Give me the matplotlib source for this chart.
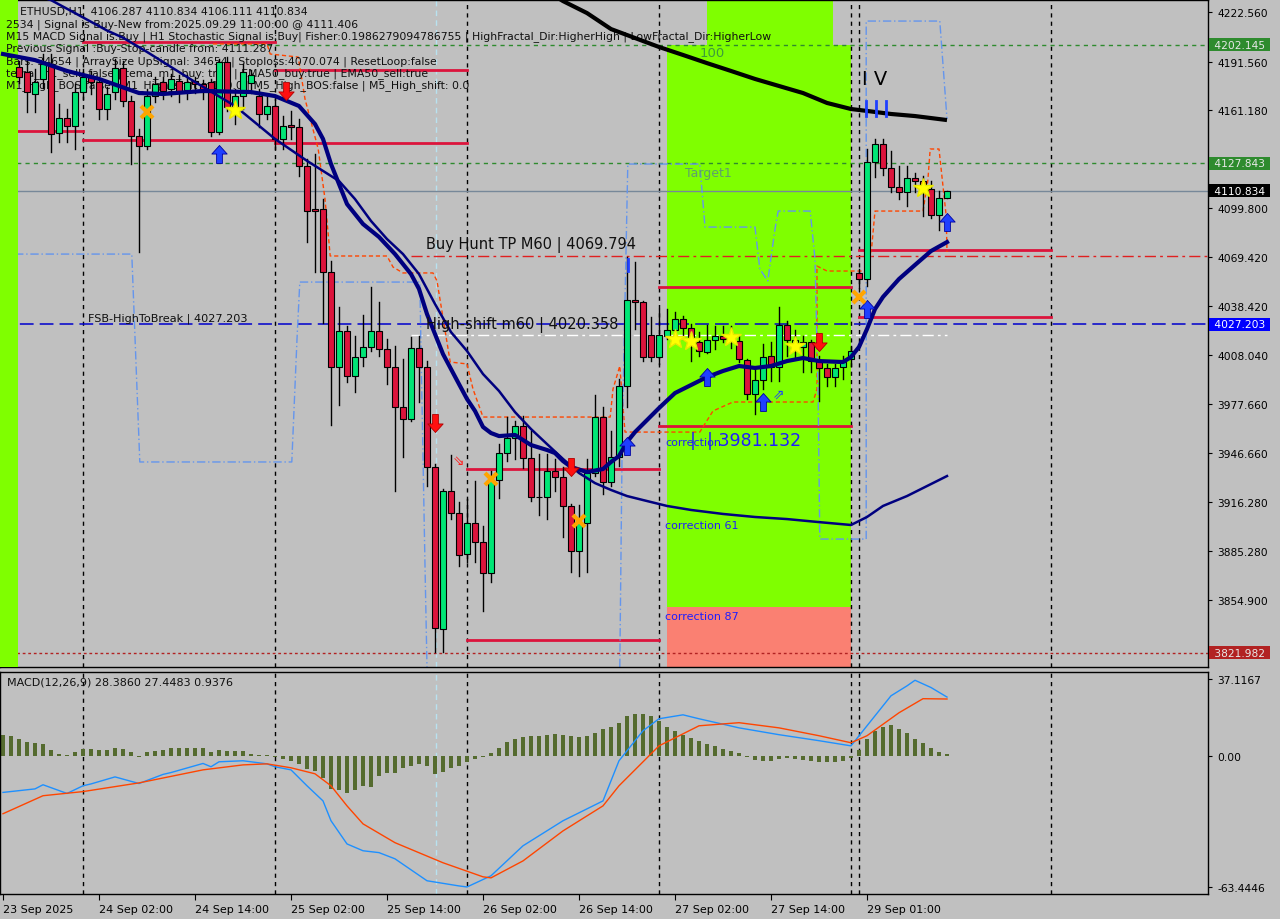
import matplotlib.pyplot as plt
from matplotlib.patches import Rectangle
from matplotlib.path import Path

plt.rcParams['font.family'] = ['DejaVu Sans']

BG = '#C0C0C0'
BULL = '#00E676'
BEAR = '#DC143C'

# hourly bars, index 0 = 23 Sep 14:00, last bar = 29 Sep 11:00
opens = [4193.0, 4195.0, 4188.0, 4185.0, 4171.3, 4180.7, 4190.1, 4146.9, 4156.3, 4151.3,
         4172.5, 4181.9, 4178.8, 4161.9, 4172.5, 4187.6, 4166.9, 4145.0, 4138.8, 4170.1,
         4178.8, 4174.4, 4179.4, 4174.0, 4179.4, 4177.5, 4178.8, 4147.5, 4191.3, 4163.2,
         4170.1, 4178.0, 4170.1, 4158.8, 4163.8, 4143.2, 4151.9, 4150.7, 4126.3, 4099.4,
         4099.4, 4060.0, 4000.6, 4023.1, 3995.0, 4006.8, 4013.1, 4023.1, 4011.8, 4000.6,
         3975.6, 3968.1, 4012.5, 4000.6, 3938.1, 3836.8, 3923.1, 3909.3, 3883.6, 3903.0,
         3891.2, 3871.8, 3929.9, 3946.8, 3956.2, 3963.7, 3943.7, 3919.3, 3919.3, 3935.5,
         3931.8, 3913.7, 3885.5, 3903.0, 3934.3, 3969.3, 3928.7, 3944.3, 3988.7, 4042.5,
         4041.2, 4020.6, 4006.8, 4019.9, 4023.7, 4030.6, 4024.9, 4016.2, 4010.0, 4017.4,
         4019.9, 4018.1, 4016.8, 4005.0, 3983.6, 3992.5, 4007.5, 4000.6, 4026.8, 4015.0,
         4013.1, 4016.2, 4004.3, 4000.0, 3994.3, 4000.6, 4005.6, 4059.4, 4055.6, 4128.8,
         4140.0, 4125.0, 4113.1, 4110.0, 4118.8, 4116.9, 4111.9, 4095.6, 4106.287]
highs = [4198.0, 4199.0, 4192.0, 4193.2, 4186.9, 4196.3, 4196.3, 4165.0, 4161.9, 4177.5,
         4186.9, 4185.6, 4181.9, 4175.7, 4193.2, 4192.0, 4170.1, 4149.4, 4174.4, 4182.0,
         4182.0, 4184.0, 4183.0, 4183.0, 4182.0, 4180.0, 4180.7, 4193.2, 4194.4, 4174.4,
         4190.1, 4186.0, 4174.4, 4171.3, 4168.2, 4157.5, 4160.6, 4155.7, 4130.6, 4133.8,
         4105.6, 4066.9, 4038.1, 4026.2, 4019.9, 4033.1, 4050.6, 4041.2, 4018.1, 4013.7,
         4005.6, 4019.3, 4019.9, 4004.3, 3939.9, 3924.3, 3945.6, 3916.0, 3918.1, 3929.3,
         3901.2, 3935.5, 3952.5, 3969.3, 3966.8, 3970.0, 3960.6, 3946.2, 3946.2, 3943.1,
         3938.1, 3914.9, 3914.3, 3943.1, 3983.1, 3975.6, 3960.6, 3993.1, 4069.4, 4066.2,
         4042.0, 4031.8, 4036.8, 4036.8, 4035.0, 4032.5, 4027.5, 4022.4, 4026.8, 4026.2,
         4026.2, 4026.2, 4019.9, 4005.6, 3999.3, 4014.9, 4016.2, 4038.1, 4029.3, 4023.7,
         4020.0, 4017.4, 4007.5, 4002.5, 4002.5, 4007.5, 4014.0, 4062.0, 4137.0, 4143.2,
         4143.2, 4135.6, 4126.3, 4126.3, 4122.0, 4120.0, 4116.9, 4110.6, 4110.834]
lows = [4188.0, 4185.0, 4178.0, 4160.0, 4160.0, 4175.0, 4135.0, 4141.0, 4141.0, 4136.9,
        4168.2, 4171.3, 4155.7, 4155.7, 4168.2, 4163.8, 4127.5, 4072.5, 4136.9, 4166.0,
        4168.0, 4170.0, 4166.0, 4168.0, 4172.0, 4168.0, 4145.0, 4146.3, 4160.6, 4152.5,
        4161.9, 4172.0, 4150.7, 4155.7, 4136.9, 4136.9, 4143.2, 4120.0, 4078.7, 4060.0,
        4028.0, 3964.3, 3976.8, 3991.0, 3985.0, 4001.2, 4010.6, 4007.5, 3990.0, 3923.1,
        3944.3, 3966.9, 3979.0, 3926.2, 3822.4, 3822.4, 3905.5, 3876.0, 3878.6, 3878.6,
        3848.0, 3866.1, 3918.7, 3942.0, 3943.1, 3937.4, 3916.8, 3908.1, 3905.5, 3923.1,
        3894.3, 3872.4, 3869.9, 3872.4, 3932.4, 3921.2, 3926.2, 3938.7, 3975.6, 4024.3,
        4004.3, 4004.3, 4002.5, 4018.1, 4018.1, 4018.1, 4004.3, 4007.5, 4009.4, 4011.8,
        4016.2, 4012.5, 4003.7, 3980.6, 3971.2, 3986.8, 3991.8, 3991.8, 4007.5, 4005.6,
        3997.5, 3997.5, 3979.4, 3988.7, 3988.7, 3993.1, 4001.0, 4050.0, 4051.2, 4119.4,
        4120.6, 4110.0, 4105.6, 4101.2, 4110.0, 4095.0, 4093.7, 4086.0, 4106.111]
closes = [4195.0, 4188.0, 4182.0, 4172.5, 4178.8, 4190.1, 4146.3, 4156.3, 4151.3, 4172.5,
          4181.9, 4178.8, 4161.9, 4171.3, 4187.6, 4166.9, 4145.0, 4138.8, 4170.1, 4177.5,
          4173.2, 4180.7, 4173.2, 4179.0, 4177.5, 4172.5, 4147.5, 4191.3, 4163.2, 4170.1,
          4185.0, 4183.0, 4158.8, 4163.8, 4143.2, 4151.3, 4150.7, 4126.3, 4098.1, 4098.1,
          4060.0, 4000.6, 4023.1, 3995.0, 4006.8, 4013.1, 4023.1, 4011.8, 4000.6, 3975.6,
          3968.1, 4012.5, 4000.6, 3938.1, 3837.4, 3923.1, 3909.3, 3883.0, 3903.0, 3891.2,
          3871.8, 3929.9, 3946.8, 3956.2, 3963.7, 3943.7, 3919.3, 3919.0, 3935.5, 3931.8,
          3913.7, 3885.5, 3903.0, 3934.3, 3969.3, 3928.7, 3944.3, 3988.7, 4042.5, 4041.2,
          4006.8, 4006.8, 4020.6, 4023.7, 4030.6, 4024.9, 4018.1, 4010.6, 4017.4, 4019.9,
          4018.1, 4019.3, 4005.6, 3983.6, 3992.5, 4006.8, 4000.6, 4026.8, 4017.4, 4017.4,
          4016.2, 4004.3, 4000.0, 3994.3, 4000.0, 4003.7, 4010.6, 4055.6, 4128.8, 4140.0,
          4125.0, 4113.1, 4110.0, 4118.8, 4116.9, 4112.0, 4095.6, 4106.3, 4110.834]

time_ticks = [0, 12, 24, 36, 48, 60, 72, 84, 96, 108]
time_labels = ['23 Sep 2025', '24 Sep 02:00', '24 Sep 14:00', '25 Sep 02:00', '25 Sep 14:00',
               '26 Sep 02:00', '26 Sep 14:00', '27 Sep 02:00', '27 Sep 14:00', '29 Sep 01:00']
day_breaks = [10, 34, 58, 82, 106, 107, 131]

price_ticks = [4222.560, 4191.560, 4161.180, 4130.180, 4099.800, 4069.420, 4038.420,
               4008.040, 3977.660, 3946.660, 3916.280, 3885.280, 3854.900, 3824.520]

# moving averages (bar index, price)
fast_k = [0, 4, 8, 12, 17, 20, 25, 31, 34, 37, 39, 40, 41, 42, 43, 45, 47, 49, 51, 52,
          53, 54, 55, 56, 57, 58, 59, 60, 61, 62, 64, 66, 68, 69, 70, 71, 73, 75, 76, 77,
          78, 79, 80, 82, 84, 86, 88, 90, 92, 94, 96, 98, 100, 102, 105, 106, 107, 108, 109, 110,
          112, 114, 116, 118]
fast_v = [4196.3, 4192.5, 4185.7, 4180.7, 4171.9, 4171.3, 4173.2, 4172.5, 4170.0, 4163.8,
          4152.5, 4143.2, 4127.5, 4115.0, 4102.5, 4090.0, 4081.9, 4071.2, 4058.7, 4049.4,
          4033.7, 4021.2, 4008.7, 3999.3, 3989.9, 3980.6, 3973.1, 3963.1, 3959.3, 3957.4,
          3958.1, 3951.8, 3948.7, 3946.8, 3941.8, 3938.1, 3934.9, 3936.8, 3941.2, 3944.9,
          3953.7, 3959.9, 3964.9, 3974.9, 3984.3, 3989.3, 3994.3, 3998.1, 4001.2, 4000.0,
          4001.2, 4004.3, 4006.2, 4004.3, 4003.7, 4006.8, 4013.1, 4024.3, 4036.8, 4044.4,
          4055.6, 4064.4, 4073.1, 4078.7]
slow_k = [4, 6, 9, 13, 15, 18, 21, 24, 29, 34, 38, 42, 44, 46, 48, 50, 52, 54, 56, 58,
          60, 62, 64, 66, 68, 70, 72, 74, 76, 78, 80, 83, 86, 90, 94, 98, 102, 106, 108, 110,
          113, 116, 118]
slow_v = [4233.2, 4230.0, 4221.9, 4211.0, 4206.5, 4197.6, 4188.2, 4178.8, 4163.8, 4143.2,
          4129.5, 4116.9, 4105.6, 4091.9, 4080.6, 4071.2, 4058.7, 4040.0, 4022.4, 4010.6,
          3996.2, 3985.6, 3972.4, 3961.8, 3952.4, 3943.1, 3934.3, 3928.0, 3923.7, 3919.9,
          3917.4, 3913.7, 3911.2, 3908.7, 3906.8, 3905.5, 3903.6, 3901.8, 3906.8, 3913.7,
          3919.9, 3927.4, 3932.4]
long_k = [66, 70, 73, 76, 79, 82, 85, 88, 91, 94, 97, 100, 103, 106, 108, 111, 114, 118]
long_v = [4242.0, 4229.4, 4221.9, 4211.9, 4206.3, 4200.7, 4195.7, 4190.6, 4185.7, 4180.7,
          4176.3, 4171.9, 4165.7, 4161.9, 4160.7, 4158.8, 4157.5, 4155.0]

# orange trailing step line
trail_k = [26.25, 33, 33.4, 36.9, 37.75, 39.4, 40.25, 40.9, 48, 48.75, 50, 53.75, 54.25, 55.9,
           58, 58.75, 60, 75.9, 76.25, 77.1, 77.75, 87.1, 88.75, 91.25, 101.25, 101.75, 101.75,
           103, 108, 108.6, 109, 115, 115.6, 115.9, 117, 117.9, 118]
trail_v = [4202.6, 4202.6, 4196.3, 4194.4, 4168.2, 4136.9, 4105.6, 4070.0, 4070.0, 4063.1,
           4059.4, 4059.4, 4054.4, 4003.7, 4002.5, 3986.8, 3969.3, 3969.3, 3986.8, 4001.2,
           3959.9, 3959.9, 3973.1, 3978.7, 3978.7, 3986.8, 4063.7, 4060.6, 4060.6, 4076.2,
           4098.1, 4098.1, 4116.9, 4136.9, 4136.9, 4095.0, 4072.5]

# light blue channel steps
band1_k = [-0.4, 16.1, 17.1, 36.1, 36.75, 37.1, 52.1, 52.75, 53.0]
band1_v = [4071.2, 4071.2, 3941.2, 3941.2, 4018.1, 4053.7, 4053.7, 3876.2, 3813.0]
band2_k = [77.1, 77.4, 78.1, 87.1, 87.75, 94.0, 94.6, 95.6, 96.5, 96.9, 100.9, 101.5, 101.9,
           102.1, 105.9, 107.9, 107.9, 117.1, 118.0]
band2_v = [3813.0, 3955.6, 4127.5, 4127.5, 4088.1, 4088.1, 4061.9, 4054.4, 4086.9, 4098.1,
           4098.1, 4068.1, 3980.6, 3893.0, 3893.0, 3893.0, 4216.9, 4216.9, 4155.7]

# red level segments: (start bar, end bar, price)
red_levels = [(10, 34, 4203.8), (34, 58, 4186.3), (-0.4, 10, 4148.2), (10, 34, 4142.5),
              (34, 58, 4140.7), (58, 82, 3936.8), (58, 82, 3829.9), (82, 106, 4050.6),
              (82, 106, 3963.7), (107, 131, 4073.7), (107, 131, 4031.9)]

# markers (bar index, price)
up_arrows = [(27, 4133.8), (78, 3951.2), (88, 3994.3), (95, 3978.7), (108, 4036.9), (118, 4091.3)]
down_arrows = [(35.4, 4173.2), (54, 3965.6), (71, 3938.1), (102, 4016.2)]
crosses = [(18, 4160.0), (61, 3930.5), (72, 3904.3), (107, 4044.3)]
stars = [(29, 4161.3), (84, 4018.1), (86, 4016.8), (91, 4019.3), (99, 4013.7), (115, 4112.5)]

# MACD(12,26,9)
hist = [10.2, 9.7, 8.1, 6.5, 6.0, 5.6, 2.9, 1.1, 0.5, 1.6,
        3.1, 3.1, 2.7, 2.7, 3.7, 3.4, 1.6, -0.8, 1.6, 2.4,
        2.9, 3.7, 3.7, 3.7, 3.7, 3.7, 1.6, 2.7, 2.1, 2.1,
        2.4, 0.8, 0.5, 0.5, -0.5, -1.6, -2.4, -4.0, -6.5, -7.3,
        -10.5, -16.1, -16.6, -18.2, -16.6, -14.5, -15.0, -9.7, -8.1, -8.1,
        -6.0, -5.0, -4.0, -5.0, -9.0, -8.0, -6.0, -5.0, -3.0, -1.5,
        -0.5, 1.5, 4.0, 6.5, 8.0, 9.0, 9.5, 9.5, 10.0, 10.5,
        10.0, 9.5, 9.0, 9.5, 11.0, 13.0, 14.0, 16.0, 19.0, 20.0,
        20.0, 19.0, 17.0, 14.0, 12.0, 10.0, 8.5, 7.0, 5.5, 4.5,
        3.5, 2.5, 1.5, -0.5, -2.0, -2.5, -2.5, -1.5, -1.0, -1.5,
        -2.0, -2.5, -3.0, -3.0, -3.0, -2.5, -1.0, 3.0, 8.0, 12.0,
        14.0, 15.0, 13.0, 11.0, 8.0, 6.0, 4.0, 2.0, 0.94]
macd_k = [0, 4, 5, 8, 10, 11, 14, 17, 20, 21, 25, 26, 27, 30, 33, 34, 36, 38, 40, 41,
          43, 45, 47, 49, 53, 57, 58, 61, 65, 70, 75, 77, 80, 82, 85, 87, 92, 97, 102, 106,
          108, 111, 113, 114, 116, 118]
macd_v = [-17.7, -16.0, -14.0, -18.2, -14.5, -13.6, -10.2, -13.4, -9.0, -8.1,
          -3.7, -5.3, -2.9, -2.4, -3.9, -5.3, -6.8, -14.5, -21.8, -31.4,
          -42.6, -45.9, -46.8, -49.8, -60.4, -62.9, -63.4, -58.0, -43.5, -31.4,
          -21.8, -2.4, 12.1, 17.9, 19.8, 17.9, 13.5, 10.2, 7.3, 4.8,
          14.5, 29.0, 33.8, 36.5, 33.0, 28.386]
sig_k = [0, 5, 10, 17, 25, 30, 33, 36, 39, 41, 43, 45, 49, 55, 60, 61, 65, 70, 75, 77,
         82, 87, 92, 97, 102, 106, 108, 112, 115, 118]
sig_v = [-28.0, -19.3, -17.3, -13.1, -6.8, -4.4, -3.9, -5.8, -8.7, -14.5,
         -24.2, -32.9, -42.0, -51.7, -58.5, -59.0, -50.8, -36.3, -24.2, -14.5,
         4.8, 14.5, 16.0, 13.5, 9.7, 6.3, 9.7, 20.8, 27.6, 27.4483]

info_lines = [
    '    ETHUSD,H1  4106.287 4110.834 4106.111 4110.834',
    '2534 | Signal is Buy-New from:2025.09.29 11:00:00 @ 4111.406',
    'M15 MACD Signal is:Buy | H1 Stochastic Signal is:Buy| Fisher:0.1986279094786755 | '
    'HighFractal_Dir:HigherHigh | LowFractal_Dir:HigherLow',
    'Previous Signal :Buy-Stop-candle from: 4111.287',
    'Bars: 34654 | ArraySize UpSignal: 34654 | Stoploss:4070.074 | ResetLoop:false',
    'tema_m1_sell: false | tema_m1_buy: true | EMA50_buy:true | EMA50_sell:true',
    'M1_High_BOS:false | M1_High_shift m1: 0.0 | M5_High_BOS:false | M5_High_shift: 0.0',
]

# MT4 style thick arrow shapes
UP = Path([(0, 1), (-0.85, 0.05), (-0.32, 0.05), (-0.32, -1), (0.32, -1), (0.32, 0.05),
           (0.85, 0.05), (0, 1)], closed=True)
DOWN = Path([(0, -1), (-0.85, -0.05), (-0.32, -0.05), (-0.32, 1), (0.32, 1), (0.32, -0.05),
             (0.85, -0.05), (0, -1)], closed=True)

fig = plt.figure(figsize=(12.8, 9.2), dpi=100, facecolor=BG)
ax = fig.add_axes([0, 1 - 668 / 920, 1208 / 1280, 667 / 920])
mx = fig.add_axes([0, 1 - 895 / 920, 1208 / 1280, 222 / 920])
for a in (ax, mx):
    a.set_facecolor(BG)
    a.set_xlim(-0.375, 150.625)
    for s in a.spines.values():
        s.set_color('black')
        s.set_linewidth(1)
ax.set_ylim(3813.0, 4230.07)
mx.set_ylim(-66.8, 40.5)


def axpos(px, py):
    return px / 1208, (668 - py) / 667


# zones
ax.add_patch(Rectangle((-0.5, 3800), 2.4, 440, color='#7FFF00', zorder=3.5, lw=0))
ax.add_patch(Rectangle((83, 3850.5), 23, 4202.1 - 3850.5, color='#7FFF00', zorder=0.5, lw=0))
ax.add_patch(Rectangle((88, 4202.1), 15.75, 40, color='#7FFF00', zorder=0.5, lw=0))
ax.add_patch(Rectangle((83, 3800), 23, 50.5, color='#FA8072', zorder=0.5, lw=0))

# info text
for i, line in enumerate(info_lines):
    x, y = axpos(6, 12.5 + 12.2 * i)
    ax.text(x, y, line, transform=ax.transAxes, fontsize=7.8, color='#101010',
            va='center', ha='left', zorder=3.6)

# full width levels
ax.axhline(4202.145, color='#2E8B2E', lw=1, ls=(0, (3, 3)), zorder=2)
ax.axhline(4127.843, color='#2E8B2E', lw=1, ls=(0, (3, 3)), zorder=2)
ax.axhline(4110.834, color='#778899', lw=1, zorder=2)
ax.axhline(4027.203, color='#0000CD', lw=1.1, ls=(0, (9, 4)), zorder=2)
ax.axhline(3821.982, color='#B22222', lw=1, ls=(0, (2, 2)), zorder=2)
ax.plot([51, 150.6], [4069.794, 4069.794], color='#E02020', lw=1, ls=(0, (8, 3, 2, 3)), zorder=2)
ax.plot([51, 118], [4020.358, 4020.358], color='white', lw=1, ls=(0, (8, 3, 2, 3)), zorder=2)
for k0, k1, p in red_levels:
    ax.plot([k0, k1], [p, p], color=BEAR, lw=2, zorder=2)

for a in (ax, mx):
    for d in day_breaks:
        a.axvline(d, color='black', lw=1, ls=(0, (3, 3)), zorder=1.5)
    a.axvline(54.1, color='#B8E2F0', lw=1, ls=(0, (4, 3)), zorder=1.6)

ax.plot(trail_k, trail_v, color='#FF4500', lw=1, ls=(0, (3, 2)), zorder=2.5)
ax.plot(band1_k, band1_v, color='#6495ED', lw=1, ls=(0, (6, 2, 1, 2)), zorder=2.5)
ax.plot(band2_k, band2_v, color='#6495ED', lw=1, ls=(0, (6, 2, 1, 2)), zorder=2.5)

# candles (the first two sit under the left zone, the rest above the text)
for i in range(len(opens)):
    o, h, l, c = opens[i], highs[i], lows[i], closes[i]
    z = 3.0 if i < 2 else 3.7
    ax.plot([i, i], [l, h], color='black', lw=1, zorder=z)
    bottom = min(o, c)
    height = max(abs(c - o), 0.6)
    ax.add_patch(Rectangle((i - 0.33, bottom), 0.66, height,
                           facecolor=BULL if c >= o else BEAR, edgecolor='black',
                           lw=0.8, zorder=z + 0.05))

ax.plot(long_k, long_v, color='black', lw=3, zorder=4, solid_capstyle='butt')
ax.plot(slow_k, slow_v, color='#00007F', lw=1.8, zorder=4)
ax.plot(fast_k, fast_v, color='#00007F', lw=3, zorder=4.1)

# markers
for k, p in up_arrows:
    ax.plot(k, p, marker=UP, ms=13, color='#1F3FFF', mec='#0000A0', mew=0.6, zorder=5)
for k, p in down_arrows:
    ax.plot(k, p, marker=DOWN, ms=13, color='#FF1010', mec='#B00000', mew=0.6, zorder=5)
ax.text(97, 3983.7, '\u21D7', color='#1F3FFF', fontsize=10, ha='center', va='center', zorder=5)
ax.text(57, 3942.4, '\u21D8', color='#FF2020', fontsize=10, ha='center', va='center', zorder=5)
for k, p in crosses:
    ax.plot(k, p, marker='x', color='#FFA500', ms=8, mew=3, zorder=5)
for k, p in stars:
    ax.plot(k, p, marker='*', color='#FFFF00', ms=15, mec='#E8E800', zorder=5)
ax.plot([78.1, 78.1], [4060.6, 4068.1], color='#1F3FFF', lw=2, zorder=5)
for k in (107.9, 109.1, 110.4):
    ax.plot([k, k], [4157.5, 4166.9], color='#1F3FFF', lw=2, zorder=5)

# labels on chart
ax.text(107.4, 4180.7, 'I V', fontsize=14, color='black', ha='left', va='center', zorder=6)
ax.text(52.9, 4077.5, 'Buy Hunt TP M60 | 4069.794', fontsize=10.5, color='#101010',
        ha='left', va='center', zorder=6)
ax.text(52.9, 4027.5, 'High-shift m60 | 4020.358', fontsize=10.5, color='#101010',
        ha='left', va='center', zorder=6)
ax.text(10.6, 4031.2, 'FSB-HighToBreak | 4027.203', fontsize=8.1, color='#101010',
        ha='left', va='center', zorder=6)
ax.text(87.1, 4197.5, '100', fontsize=9.5, color='#3C9C3C', ha='left', va='center', zorder=3.9)
ax.text(85.25, 4122.5, 'Target1', fontsize=9, color='#5E9E6E', ha='left', va='center', zorder=6)
ax.text(82.75, 3953.7, 'correction', fontsize=8, color='#1E1EFF', ha='left', va='center', zorder=6)
ax.text(82.75, 3901.8, 'correction 61', fontsize=8, color='#1E1EFF', ha='left', va='center', zorder=6)
ax.text(82.75, 3844.9, 'correction 87', fontsize=8, color='#1E1EFF', ha='left', va='center', zorder=6)
ax.text(85.9, 3954.9, '|  | 3981.132', fontsize=12.5, color='#1E1EFF', ha='left', va='center', zorder=6)

# right price scale
ax.yaxis.tick_right()
ax.set_yticks(price_ticks)
ax.set_yticklabels(['%.3f' % v for v in price_ticks])
ax.tick_params(axis='y', direction='out', length=3, pad=4, labelsize=7.7, colors='black')
ax.set_xticks([])
boxes = [(4202.145, '#2E8B2E', '#E8E8E8'), (4127.843, '#2E8B2E', '#E8E8E8'),
         (4110.834, 'black', 'white'), (4027.203, '#0000FF', 'white'),
         (3821.982, '#B22222', '#E8E8E8')]
for p, bg, fg in boxes:
    ax.text(1.0025, p, ' %.3f ' % p, transform=ax.get_yaxis_transform(), fontsize=7.7,
            color=fg, va='center', ha='left', clip_on=False, zorder=7,
            bbox=dict(facecolor=bg, edgecolor='none', pad=1.2))

# MACD panel
mx.bar(range(len(hist)), hist, width=0.42, color='#556B2F', zorder=2)
mx.plot(macd_k, macd_v, color='#1E90FF', lw=1, zorder=3)
mx.plot(sig_k, sig_v, color='#FF4500', lw=1, zorder=3)
mx.text(7 / 1208, 0.955, 'MACD(12,26,9) 28.3860 27.4483 0.9376', transform=mx.transAxes,
        fontsize=8, color='#101010', va='center', ha='left')
mx.yaxis.tick_right()
mx.set_yticks([37.1167, 0.0, -63.4446])
mx.set_yticklabels(['37.1167', '0.00', '-63.4446'])
mx.tick_params(axis='y', direction='out', length=3, pad=4, labelsize=7.7, colors='black')
mx.set_xticks(time_ticks)
mx.set_xticklabels(time_labels, ha='left')
mx.tick_params(axis='x', direction='out', length=4, pad=3, labelsize=8, colors='black')

fig.savefig('out.png', dpi=100, facecolor=BG)
